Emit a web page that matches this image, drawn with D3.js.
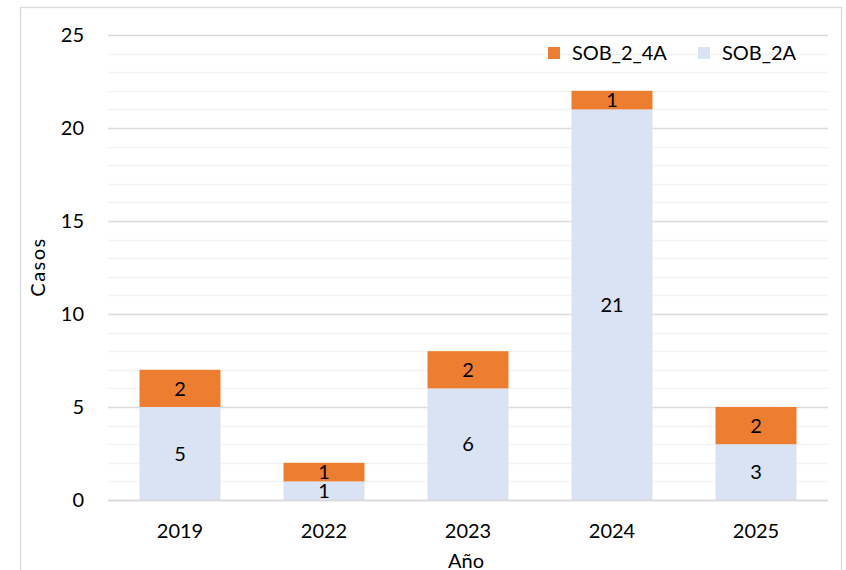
<!DOCTYPE html>
<html><head><meta charset="utf-8">
<script src="https://cdn.jsdelivr.net/npm/d3@7"></script>
<style>body{margin:0;background:#fff;font-family:Lato,"Noto Sans",sans-serif;}</style>
</head><body><svg id="c" width="846" height="570"></svg>
<script>
const categories = ["2019","2022","2023","2024","2025"];
const sob2A = [5,1,6,21,3];
const sob24A = [2,1,2,1,2];
const seriesNames = ["SOB_2A","SOB_2_4A"];
const yTicks = [0,5,10,15,20,25];

const svg = d3.select("#c");
const colors = {"SOB_2A":"#DAE3F3","SOB_2_4A":"#ED7D31"};
const m = {l:108, r:828, t:35, b:500};
const x = d3.scaleBand().domain(categories).range([m.l,m.r]).paddingInner(0.4375).paddingOuter(0.21875);
const y = d3.scaleLinear().domain([0,25]).range([m.b,m.t]);
const fs = 20;

svg.append("rect").attr("x",20.5).attr("y",7.5).attr("width",821).attr("height",580)
  .attr("fill","#fff").attr("stroke","#D9D9D9").attr("stroke-width",1.3);

const minor = d3.range(0,26).filter(v=>v%5!==0);
svg.append("g").selectAll("line").data(minor).join("line")
  .attr("x1",m.l).attr("x2",m.r).attr("y1",d=>Math.round(y(d))+0.5).attr("y2",d=>Math.round(y(d))+0.5)
  .attr("stroke","#F2F2F2").attr("stroke-width",1.3);
svg.append("g").selectAll("line").data(yTicks).join("line")
  .attr("x1",m.l).attr("x2",m.r).attr("y1",d=>Math.round(y(d))+0.5).attr("y2",d=>Math.round(y(d))+0.5)
  .attr("stroke","#D9D9D9").attr("stroke-width",1.3);

const rows = categories.map((c,i)=>({cat:c,"SOB_2A":sob2A[i],"SOB_2_4A":sob24A[i]}));
const stack = d3.stack().keys(seriesNames)(rows);
const g = svg.append("g");
stack.forEach(s=>{
  g.append("g").selectAll("rect").data(s).join("rect")
    .attr("x",d=>x(d.data.cat)).attr("width",x.bandwidth())
    .attr("y",d=>y(d[1])).attr("height",d=>y(d[0])-y(d[1]))
    .attr("fill",colors[s.key]);
  g.append("g").selectAll("text").data(s).join("text")
    .attr("x",d=>x(d.data.cat)+x.bandwidth()/2).attr("y",d=>(y(d[0])+y(d[1]))/2)
    .attr("dy","0.36em").attr("text-anchor","middle")
    .attr("font-size",fs).attr("fill","#000").text(d=>d[1]-d[0]);
});

svg.append("line").attr("x1",m.l).attr("x2",m.r).attr("y1",y(0)+0.5).attr("y2",y(0)+0.5)
  .attr("stroke","#D9D9D9").attr("stroke-width",1.5);

svg.append("g").selectAll("text").data(yTicks).join("text")
  .attr("x",84).attr("y",d=>y(d)).attr("dy","0.36em").attr("text-anchor","end")
  .attr("font-size",fs).attr("fill","#000").text(d=>d);
svg.append("g").selectAll("text").data(categories).join("text")
  .attr("x",d=>x(d)+x.bandwidth()/2).attr("y",531).attr("dy","0.36em").attr("text-anchor","middle")
  .attr("font-size",fs).attr("fill","#000").text(d=>d);

svg.append("text").attr("transform","translate(45,267) rotate(-90)").attr("text-anchor","middle")
  .attr("font-size",fs).attr("letter-spacing",1.5).attr("fill","#000").text("Casos");
svg.append("text").attr("x",466).attr("y",561).attr("dy","0.36em").attr("text-anchor","middle")
  .attr("font-size",fs).attr("fill","#000").text("Año");

const leg = [{k:"SOB_2_4A",x:548},{k:"SOB_2A",x:698}];
const lg = svg.append("g");
leg.forEach(L=>{
  lg.append("rect").attr("x",L.x).attr("y",47).attr("width",12).attr("height",12).attr("fill",colors[L.k]);
  lg.append("text").attr("x",L.x+24).attr("y",53).attr("dy","0.36em").attr("font-size",fs).attr("fill","#000").text(L.k);
});
</script></body></html>
